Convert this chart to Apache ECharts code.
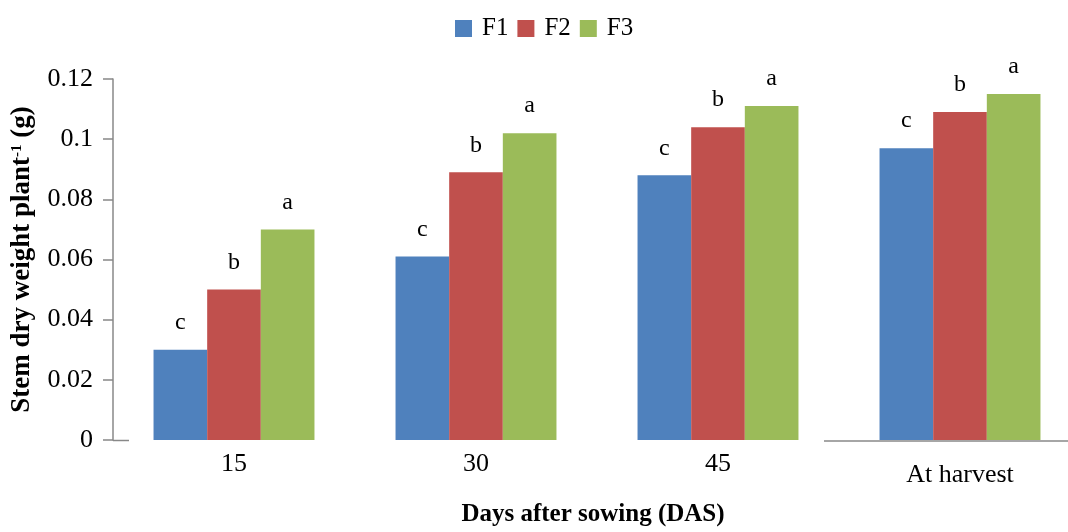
<!DOCTYPE html>
<html>
<head>
<meta charset="utf-8">
<script src="https://cdn.jsdelivr.net/npm/echarts@6/dist/echarts.min.js"></script>
<style>
    html, body { margin: 0; padding: 0; background: #fff; }
    #container { width: 1068px; height: 532px; }
</style>
</head>
<body>
<div id="container"></div>
<script>
// 数据
var categories = ['15', '30', '45', 'At harvest']
var seriesNames = ['F1', 'F2', 'F3']
var f1Values = [0.030, 0.061, 0.088, 0.097]
var f2Values = [0.050, 0.089, 0.104, 0.109]
var f3Values = [0.070, 0.102, 0.111, 0.115]
var f1Letters = ['c', 'c', 'c', 'c']
var f2Letters = ['b', 'b', 'b', 'b']
var f3Letters = ['a', 'a', 'a', 'a']
var yTicks = [0, 0.02, 0.04, 0.06, 0.08, 0.1, 0.12]

var colors = ['#4F81BD', '#C0504D', '#9BBB59']
var serif = '"Liberation Serif", "DejaVu Serif", serif'

var makeSeries = function (name, values, letters, color) {
    return {
        name: name,
        type: 'bar',
        barGap: 0,
        barCategoryGap: '33.5%',
        itemStyle: { color: color },
        data: values,
        label: {
            show: true,
            position: 'top',
            distance: 15,
            fontFamily: serif,
            fontSize: 24,
            color: '#000',
            formatter: function (p) {
                return letters[p.dataIndex]
            },
        },
    }
}

var dom = document.getElementById('container')
var myChart = echarts.init(dom, null, { renderer: 'canvas' })

var option = {
    animation: false,
    backgroundColor: '#fff',
    legend: {
        left: 455,
        top: 16,
        padding: 0,
        itemWidth: 17,
        itemHeight: 17,
        itemGap: 9,
        icon: 'rect',
        textStyle: {
            fontFamily: serif,
            fontSize: 25,
            color: '#000',
            padding: [0, 0, 0, 5],
        },
        data: seriesNames,
    },
    grid: {
        left: 113,
        top: 79,
        width: 968,
        height: 361,
        outerBoundsMode: 'none',
    },
    xAxis: {
        type: 'category',
        data: categories.map(function (c) {
            if (c === 'At harvest') {
                return { value: c, textStyle: { padding: [11, 0, 0, 0] } }
            }
            return c
        }),
        axisLine: { show: false },
        axisTick: { show: false },
        axisLabel: {
            margin: 11,
            fontFamily: serif,
            fontSize: 26,
            color: '#000',
        },
        name: 'Days after sowing (DAS)',
        nameLocation: 'middle',
        nameGap: 62,
        nameTextStyle: {
            fontFamily: serif,
            fontSize: 25,
            fontWeight: 'bold',
            color: '#000',
            padding: [0, 8, 0, 0],
        },
    },
    yAxis: {
        type: 'value',
        min: 0,
        max: 0.12,
        interval: 0.02,
        axisLine: { show: true, lineStyle: { color: '#888', width: 1.5 } },
        axisTick: { show: true, inside: false, length: 10, lineStyle: { color: '#888', width: 1.5 } },
        splitLine: { show: false },
        axisLabel: {
            margin: 20,
            fontFamily: serif,
            fontSize: 26,
            color: '#000',
            formatter: function (v) {
                var s = yTicks.find(function (t) { return Math.abs(t - v) < 1e-9 })
                return String(s)
            },
        },
        name: 'Stem dry weight plant{sup|-1} (g)',
        nameLocation: 'middle',
        nameGap: 77,
        nameTextStyle: {
            fontFamily: serif,
            fontSize: 27,
            fontWeight: 'bold',
            color: '#000',
            rich: {
                sup: {
                    fontFamily: serif,
                    fontSize: 15,
                    fontWeight: 'bold',
                    color: '#000',
                    padding: [0, 0, 10, 0],
                },
            },
        },
    },
    graphic: [
        // 底部轴线残段
        {
            type: 'line',
            shape: { x1: 113, y1: 440.5, x2: 129, y2: 440.5 },
            style: { stroke: '#888', lineWidth: 1.5 },
        },
        {
            type: 'line',
            shape: { x1: 824, y1: 441, x2: 1068, y2: 441 },
            style: { stroke: '#888', lineWidth: 1.5 },
        },
    ],
    series: [
        makeSeries(seriesNames[0], f1Values, f1Letters, colors[0]),
        makeSeries(seriesNames[1], f2Values, f2Letters, colors[1]),
        makeSeries(seriesNames[2], f3Values, f3Letters, colors[2]),
    ],
}

myChart.setOption(option, true)
</script>
</body>
</html>
